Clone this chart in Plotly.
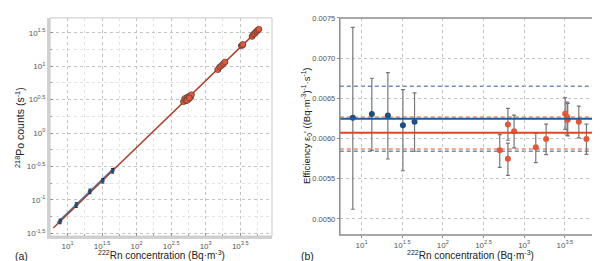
import plotly.graph_objects as go
import numpy as np

# ---------------- data ----------------
# panel (b): efficiency per concentration level
blue_conc_log = [0.893, 1.127, 1.324, 1.509, 1.652]
blue_eff = [0.006259, 0.006304, 0.006287, 0.006167, 0.006208]
blue_eff_hi = [0.007383, 0.006750, 0.006821, 0.006608, 0.006567]
blue_eff_lo = [0.005121, 0.005854, 0.005746, 0.005600, 0.005842]

red_conc_log = [2.70, 2.80, 2.80, 2.876, 3.143, 3.27, 3.504, 3.528, 3.536, 3.672, 3.766]
red_eff = [0.005854, 0.006175, 0.005750, 0.006092, 0.005892, 0.005996, 0.006308, 0.006267, 0.006233, 0.006208, 0.005996]
red_eff_hi = [0.006050, 0.006375, 0.005942, 0.006292, 0.006063, 0.006179, 0.006508, 0.006454, 0.006438, 0.006404, 0.006179]
red_eff_lo = [0.005642, 0.005979, 0.005542, 0.005883, 0.005700, 0.005800, 0.006113, 0.006042, 0.006033, 0.006008, 0.005804]

# fitted efficiencies and confidence limits
blue_fit = 0.006246
blue_ci = [0.005842, 0.006650]
red_fit = 0.006071
red_ci = [0.005871, 0.006267]

# panel (a): counts vs concentration
a_blue_conc = [7.82, 13.4, 21.1, 32.3, 44.9]
a_blue_counts = [0.0475, 0.0835, 0.134, 0.193, 0.272]
a_red_conc = [480, 500, 520, 540, 560, 580, 600, 620, 540, 580,
              1500, 1600, 1700, 1800, 1900,
              3300, 3400, 3450,
              4700, 4900, 5100, 5300, 5500, 5700, 5900]
a_red_counts = [2.95, 3.30, 3.05, 3.45, 3.20, 3.55, 3.40, 3.75, 3.10, 3.35,
                8.9, 9.8, 10.3, 10.9, 11.6,
                20.3, 20.9, 21.3,
                28.0, 30.0, 30.8, 32.5, 33.4, 35.0, 36.0]

x_tick_exp = [1, 1.5, 2, 2.5, 3, 3.5]
y_tick_exp_a = [-1.5, -1, -0.5, 0, 0.5, 1, 1.5]
y_ticks_b = [0.0050, 0.0055, 0.0060, 0.0065, 0.0070, 0.0075]

# ---------------- styling ----------------
FONT = "Liberation Sans"
TICKC = "#555555"
BLUE_PT = "#1d4f80"
BLUE_LN = "#1f5b99"
BLUE_DASH = "#6b8fbd"
RED_PT = "#e0583a"
RED_LN = "#e0452a"
RED_DASH = "#ec8a72"
RED_FIT_A = "#a8432c"
GRID = "#c4c4c4"

def fmt_exp(e):
    s = ("%g" % e)
    return "10<sup>%s</sup>" % s

fig = go.Figure()

# ---- panel (a) ----
bx = np.array(a_blue_conc)
xs_blue = np.logspace(np.log10(bx.min()) - 0.04, np.log10(bx.max()) + 0.03, 30)
fig.add_trace(go.Scatter(x=np.concatenate([xs_blue, xs_blue[::-1]]),
                         y=np.concatenate([xs_blue * blue_ci[1], (xs_blue * blue_ci[0])[::-1]]),
                         fill="toself", fillcolor="rgba(120,170,215,0.6)", line=dict(width=0),
                         mode="lines", xaxis="x", yaxis="y", hoverinfo="skip", showlegend=False))
all_x = np.array(a_blue_conc + a_red_conc)
xs_red = np.logspace(np.log10(all_x.min()) - 0.1, np.log10(all_x.max()) + 0.02, 50)
fig.add_trace(go.Scatter(x=xs_blue, y=xs_blue * blue_fit, mode="lines",
                         line=dict(color="#3f7fbf", width=2), xaxis="x", yaxis="y", showlegend=False))
fig.add_trace(go.Scatter(x=xs_red, y=xs_red * red_fit, mode="lines",
                         line=dict(color=RED_FIT_A, width=1.5), xaxis="x", yaxis="y", showlegend=False))
fig.add_trace(go.Scatter(x=a_blue_conc, y=a_blue_counts, mode="markers",
                         marker=dict(color=BLUE_PT, size=4),
                         error_y=dict(type="percent", value=8, color="#222", thickness=1, width=1.5),
                         xaxis="x", yaxis="y", showlegend=False))
fig.add_trace(go.Scatter(x=a_red_conc, y=a_red_counts, mode="markers",
                         marker=dict(color=RED_PT, size=6, line=dict(color="#333", width=0.5)),
                         error_y=dict(type="percent", value=5, color="#222", thickness=1.3, width=1.5),
                         error_x=dict(type="percent", value=8, color="#222", thickness=1.3, width=1.5),
                         xaxis="x", yaxis="y", showlegend=False))

# ---- panel (b) ----
def errs(v, hi, lo):
    return (np.array(hi) - np.array(v)).tolist(), (np.array(v) - np.array(lo)).tolist()

bp, bm = errs(blue_eff, blue_eff_hi, blue_eff_lo)
rp, rm = errs(red_eff, red_eff_hi, red_eff_lo)
fig.add_trace(go.Scatter(x=[10 ** v for v in blue_conc_log], y=blue_eff, mode="markers",
                         marker=dict(color=BLUE_PT, size=6),
                         error_y=dict(type="data", array=bp, arrayminus=bm, color="#777", thickness=1.2, width=2),
                         xaxis="x2", yaxis="y2", showlegend=False))
fig.add_trace(go.Scatter(x=[10 ** v for v in red_conc_log], y=red_eff, mode="markers",
                         marker=dict(color=RED_PT, size=6),
                         error_y=dict(type="data", array=rp, arrayminus=rm, color="#777", thickness=1.2, width=2),
                         xaxis="x2", yaxis="y2", showlegend=False))

shapes = []
for yv in blue_ci:
    shapes.append(dict(type="line", xref="x2 domain", yref="y2", x0=0, x1=1, y0=yv, y1=yv,
                       line=dict(color=BLUE_DASH, width=1.5, dash="4px,3px"), layer="below"))
for yv in red_ci:
    shapes.append(dict(type="line", xref="x2 domain", yref="y2", x0=0, x1=1, y0=yv, y1=yv,
                       line=dict(color=RED_DASH, width=1.5, dash="4px,3px"), layer="below"))
shapes.append(dict(type="line", xref="x2 domain", yref="y2", x0=0, x1=1, y0=blue_fit, y1=blue_fit,
                   line=dict(color=BLUE_LN, width=2)))
shapes.append(dict(type="line", xref="x2 domain", yref="y2", x0=0, x1=1, y0=red_fit, y1=red_fit,
                   line=dict(color=RED_LN, width=2)))
# frames
shapes.append(dict(type="rect", xref="x domain", yref="y domain", x0=0, x1=1, y0=0, y1=1,
                   line=dict(color="#c8c8c8", width=1)))
shapes.append(dict(type="rect", xref="x2 domain", yref="y2 domain", x0=0, x1=1, y0=0, y1=1,
                   line=dict(color="#8c8c8c", width=1.5)))

tickfont = dict(family=FONT, size=8, color=TICKC)
tickfont_b = dict(family=FONT, size=7.5, color=TICKC)
titlefont = dict(family=FONT, size=10, color="#222")
minor_x = [10 ** (e + 0.25) for e in [0.5] + x_tick_exp]
minor_y = [10 ** (e + 0.25) for e in y_tick_exp_a]
xtitle = "<sup>222</sup>Rn concentration (Bq·m<sup>-3</sup>)"

fig.update_layout(
    width=600, height=261, margin=dict(l=0, r=0, t=0, b=0, autoexpand=False),
    paper_bgcolor="white", plot_bgcolor="white",
    font=dict(family=FONT),
    shapes=shapes,
    xaxis=dict(domain=[0.07, 0.44], type="log", range=[0.746, 3.96], automargin=False,
               tickvals=[10 ** e for e in x_tick_exp], ticktext=[fmt_exp(e) for e in x_tick_exp],
               tickfont=tickfont, showgrid=True, gridcolor=GRID, griddash="dot", gridwidth=1,
               minor=dict(tickvals=minor_x, showgrid=True, gridcolor="#e4e4e4", griddash="dot",
                          ticks="inside", ticklen=2, tickcolor="#999"),
               showline=True, linecolor="#d2d2d2", linewidth=3, ticks="inside", ticklen=3, tickcolor="#888",
               zeroline=False, anchor="y"),
    yaxis=dict(domain=[0.126, 0.962], type="log", range=[-1.545, 1.725], automargin=False,
               tickvals=[10 ** e for e in y_tick_exp_a], ticktext=[fmt_exp(e) for e in y_tick_exp_a],
               tickfont=tickfont, showgrid=True, gridcolor=GRID, griddash="dot", gridwidth=1,
               minor=dict(tickvals=minor_y, showgrid=True, gridcolor="#e4e4e4", griddash="dot",
                          ticks="inside", ticklen=2, tickcolor="#999"),
               showline=True, linecolor="#d2d2d2", linewidth=3, ticks="inside", ticklen=3, tickcolor="#888",
               zeroline=False, anchor="x"),
    xaxis2=dict(domain=[0.553, 0.987], type="log", range=[0.733, 3.935], automargin=False,
                tickvals=[10 ** e for e in x_tick_exp], ticktext=[fmt_exp(e) for e in x_tick_exp],
                tickfont=tickfont, showgrid=True, gridcolor=GRID, griddash="dot", gridwidth=1,
                showline=False, ticks="outside", ticklen=2, tickcolor="#888",
                zeroline=False, anchor="y2"),
    yaxis2=dict(domain=[0.13, 0.962], range=[0.0048, 0.0075], automargin=False,
                tickvals=y_ticks_b, ticktext=["%.4f" % v for v in y_ticks_b],
                tickfont=tickfont_b, showgrid=True, gridcolor=GRID, griddash="dot", gridwidth=1,
                showline=False, ticks="outside", ticklen=2, tickcolor="#888",
                zeroline=False, anchor="x2"),
    annotations=[
        dict(text=xtitle, x=153 / 600, y=1 - 247 / 261, xref="paper", yref="paper", showarrow=False,
             xanchor="center", yanchor="middle", font=titlefont),
        dict(text=xtitle, x=462 / 600, y=1 - 247 / 261, xref="paper", yref="paper", showarrow=False,
             xanchor="center", yanchor="middle", font=titlefont),
        dict(text="<sup>218</sup>Po counts (s<sup>-1</sup>)", x=11 / 600, y=1 - 120 / 261,
             xref="paper", yref="paper", showarrow=False, textangle=-90,
             xanchor="center", yanchor="middle", font=dict(family=FONT, size=10.5, color="#222")),
        dict(text="Efficiency ε<sub>0</sub>' ((Bq·m<sup>-3</sup>)<sup>-1</sup>·s<sup>-1</sup>)",
             x=298 / 600, y=1 - 118 / 261, xref="paper", yref="paper", showarrow=False, textangle=-90,
             xanchor="center", yanchor="middle", font=dict(family=FONT, size=9.5, color="#222")),
        dict(text="(a)", x=0.008, y=1 - 248 / 261, xref="paper", yref="paper", showarrow=False,
             xanchor="left", yanchor="middle", font=dict(family=FONT, size=10.5, color="#222")),
        dict(text="(b)", x=0.485, y=1 - 248 / 261, xref="paper", yref="paper", showarrow=False,
             xanchor="left", yanchor="middle", font=dict(family=FONT, size=10.5, color="#222")),
    ],
)

fig.write_html("out.html")
